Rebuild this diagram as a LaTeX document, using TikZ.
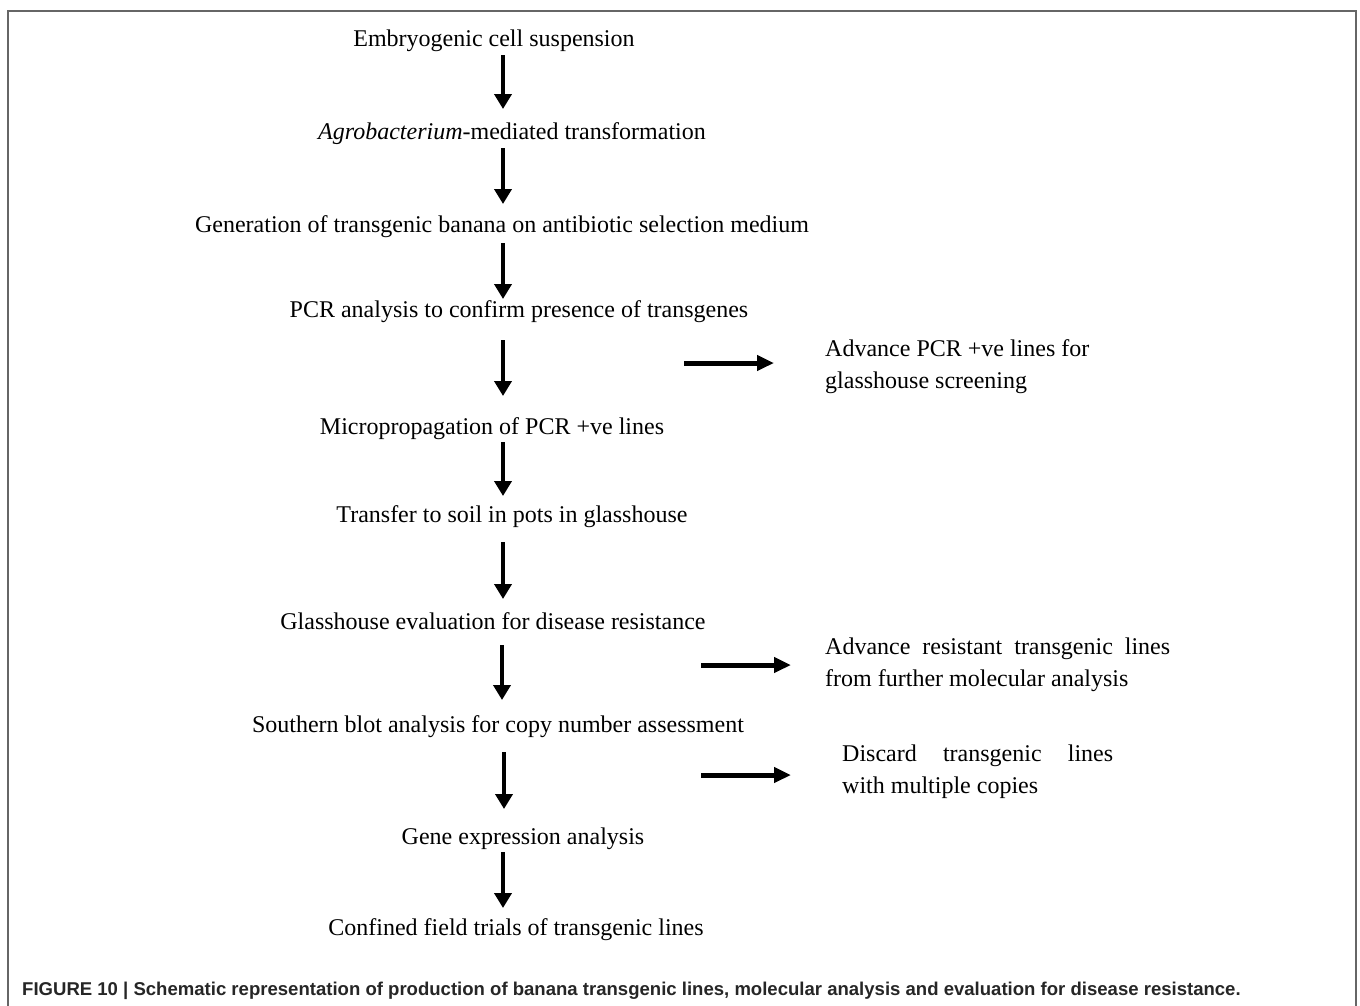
\documentclass[tikz,border=0pt]{standalone}
\usepackage{fontspec}
\setmainfont{Liberation Serif}
\newfontfamily\capfont{Liberation Sans}
\usetikzlibrary{arrows.meta}
\begin{document}
\begin{tikzpicture}[x=1pt,y=-1pt,
  stepbox/.style={anchor=base,inner sep=0pt,font=\fontsize{24}{32}\selectfont},
  sidebox/.style={anchor=base west,inner sep=0pt,align=left,font=\fontsize{24}{31.5}\selectfont},
  varrow/.style={line width=4pt,-{Triangle[width=17pt,length=15pt]}},
  harrow/.style={line width=5pt,-{Triangle[width=15pt,length=17pt]}}]
\useasboundingbox (0,0) rectangle (1360,1005);
\fill[white] (0,0) rectangle (1360,1005);
\draw[gray!80!black,line width=2pt] (8,1010) -- (8,11) -- (1356,11) -- (1356,1010);
% steps
\node[stepbox] (s1) at (494,46) {Embryogenic cell suspension};
\node[stepbox] (s2) at (512,139) {\textit{Agrobacterium}-mediated transformation};
\node[stepbox] (s3) at (502,232) {Generation of transgenic banana on antibiotic selection medium};
\node[stepbox] (s4) at (519,317) {PCR analysis to confirm presence of transgenes};
\node[stepbox] (s5) at (492,434) {Micropropagation of PCR +ve lines};
\node[stepbox] (s6) at (512,522) {Transfer to soil in pots in glasshouse};
\node[stepbox] (s7) at (493,629) {Glasshouse evaluation for disease resistance};
\node[stepbox] (s8) at (498,732) {Southern blot analysis for copy number assessment};
\node[stepbox] (s9) at (523,844) {Gene expression analysis};
\node[stepbox] (s10) at (516,935) {Confined field trials of transgenic lines};
% vertical arrow ends
\coordinate (v1a) at (503,55);  \coordinate (v1b) at (503,109);
\coordinate (v2a) at (503,148); \coordinate (v2b) at (503,204);
\coordinate (v3a) at (503,243); \coordinate (v3b) at (503,299);
\coordinate (v4a) at (503,340); \coordinate (v4b) at (503,396);
\coordinate (v5a) at (503,442); \coordinate (v5b) at (503,496);
\coordinate (v6a) at (503,542); \coordinate (v6b) at (503,599);
\coordinate (v7a) at (502,645); \coordinate (v7b) at (502,700);
\coordinate (v8a) at (504,752); \coordinate (v8b) at (504,809);
\coordinate (v9a) at (503,852); \coordinate (v9b) at (503,908);
\foreach \i in {1,...,9} {\draw[varrow] (v\i a) -- (v\i b);}
% side notes (anchor = baseline of last line)
\node[sidebox] (n1) at (825,388) {Advance PCR +ve lines for\\glasshouse screening};
\node[sidebox] (n2) at (825,686) {\makebox[345pt][s]{Advance resistant transgenic lines}\\from further molecular analysis};
\node[sidebox] (n3) at (842,793) {\makebox[271pt][s]{Discard transgenic lines}\\with multiple copies};
\coordinate (h1a) at (684,363); \coordinate (h1b) at (774,363);
\coordinate (h2a) at (701,665); \coordinate (h2b) at (791,665);
\coordinate (h3a) at (701,775); \coordinate (h3b) at (791,775);
\foreach \i in {1,2,3} {\draw[harrow] (h\i a) -- (h\i b);}
% caption
\node[anchor=base west,inner sep=0pt,text=black!85,font=\capfont\bfseries\fontsize{18.55}{22}\selectfont] (cap) at (22,995)
 {FIGURE 10 | Schematic representation of production of banana transgenic lines, molecular analysis and evaluation for disease resistance.};
\end{tikzpicture}
\end{document}
